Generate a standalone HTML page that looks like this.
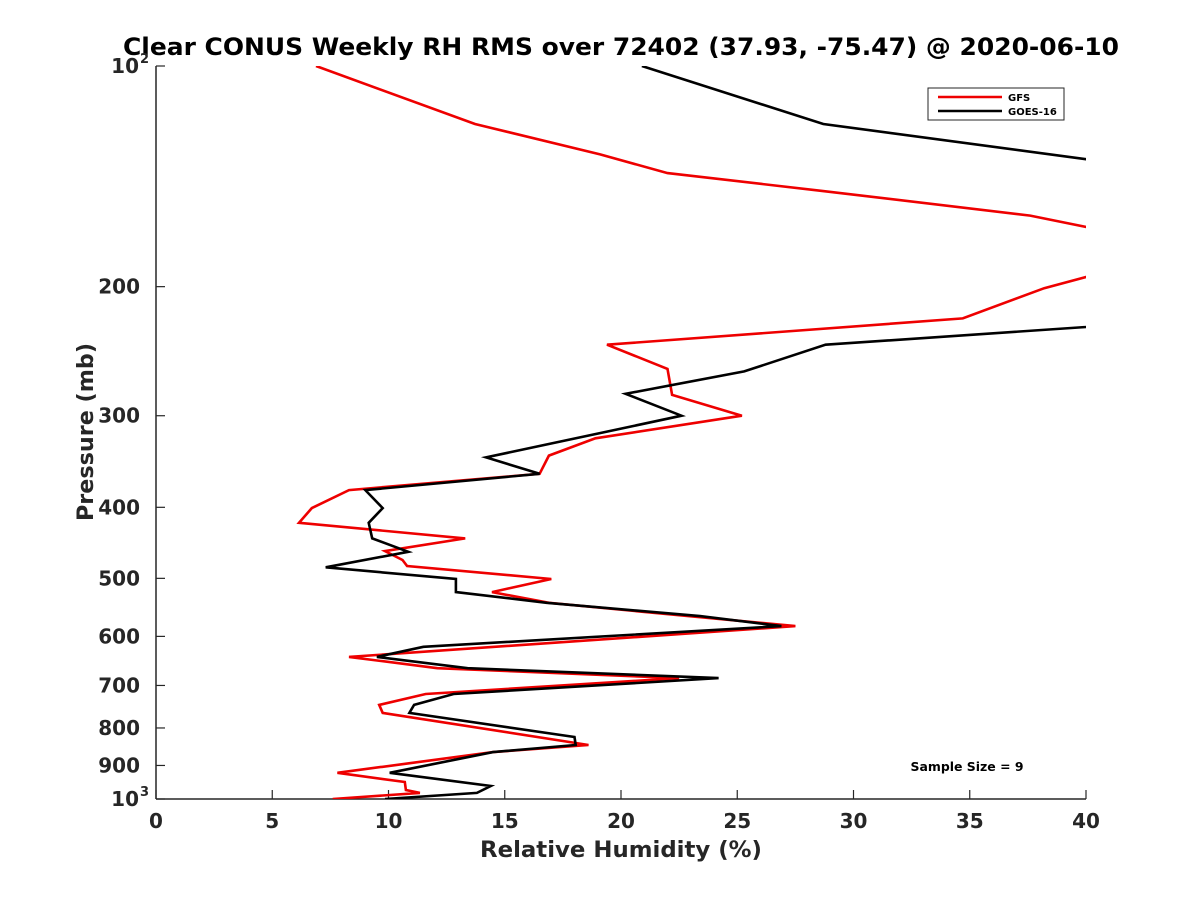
<!DOCTYPE html>
<html><head><meta charset="utf-8"><style>
body{margin:0;background:#fff;}
svg{display:block;font-family:"DejaVu Sans","Liberation Sans",sans-serif;}
</style></head><body>
<svg id="chart" width="1200" height="900" viewBox="0 0 1200 900">
<rect width="1200" height="900" fill="#fff"/>
<defs><clipPath id="plotclip"><rect x="156" y="66" width="930" height="733"/></clipPath></defs>
<text x="621" y="55" text-anchor="middle" font-size="24" font-weight="bold" fill="#000" textLength="996" lengthAdjust="spacingAndGlyphs">Clear CONUS Weekly RH RMS over 72402 (37.93, -75.47) @ 2020-06-10</text>
<g id="axes"></g>
<g id="series" clip-path="url(#plotclip)"></g>
<text x="621" y="857" text-anchor="middle" font-size="22" font-weight="bold" fill="#262626" textLength="282" lengthAdjust="spacingAndGlyphs">Relative Humidity (%)</text>
<text transform="translate(93,432) rotate(-90)" text-anchor="middle" font-size="22" font-weight="bold" fill="#262626" textLength="178" lengthAdjust="spacingAndGlyphs">Pressure (mb)</text>
<g>
<rect x="928" y="88" width="136" height="32" fill="#fff" stroke="#262626" stroke-width="1"/>
<line x1="938" y1="97" x2="1002" y2="97" stroke="#e00" stroke-width="2.5"/>
<text x="1008" y="101" font-size="10" font-weight="bold" fill="#000">GFS</text>
<line x1="938" y1="111" x2="1002" y2="111" stroke="#000" stroke-width="2.5"/>
<text x="1008" y="115" font-size="10" font-weight="bold" fill="#000">GOES-16</text>
</g>
<text x="967" y="771" text-anchor="middle" font-size="12" font-weight="bold" fill="#000" textLength="113" lengthAdjust="spacingAndGlyphs">Sample Size = 9</text>
</svg>
<script>
const xTicks = [0,5,10,15,20,25,30,35,40];
const yTicks = [100,200,300,400,500,600,700,800,900,1000];
const yTickLabels = ['10','200','300','400','500','600','700','800','900','10'];
const gfsP  = [100,120,132,140,148,160,167,178,194,201,221,240,259,281,300,322,340,360,379,401,420,441,459,472,481,501,522,540,563,581,640,663,684,719,744,763,844,863,921,948,972,981,1000];
const gfsRH = [6.88,13.72,19.1,22.0,28.6,37.6,40.5,43,40,38.2,34.7,19.4,22.0,22.2,25.2,18.9,16.9,16.5,8.3,6.7,6.15,13.3,9.85,10.6,10.8,17.0,14.45,16.9,22.9,27.5,8.3,12.1,22.5,11.6,9.6,9.75,18.6,14.5,7.8,10.7,10.75,11.35,7.6];
const goesP  = [100,120,134,160,200,227,240,261,280,300,342,360,379,401,420,441,460,483,501,522,540,563,581,620,640,663,684,719,744,763,823,844,863,921,960,981,1000];
const goesRH = [20.9,28.7,40,48,48,40,28.8,25.3,20.2,22.6,14.2,16.5,9.0,9.75,9.15,9.3,10.85,7.3,12.9,12.9,16.8,23.4,26.9,11.5,9.5,13.4,24.2,12.8,11.1,10.9,18.0,18.05,14.5,10.05,14.4,13.8,9.85];

const X0=156,X1=1086,Y0=66,Y1=799;
function xs(v){return X0+(v-0)/(40-0)*(X1-X0);}
function ys(p){return Y0+(Math.log10(p)-2)*(Y1-Y0);}
const NS='http://www.w3.org/2000/svg';
const axes=document.getElementById('axes');
const series=document.getElementById('series');
function mk(tag,attrs,parent){const e=document.createElementNS(NS,tag);for(const k in attrs)e.setAttribute(k,attrs[k]);parent.appendChild(e);return e;}

let a=mk('line',{x1:X0,y1:Y0,x2:X0,y2:Y1,stroke:'#262626','stroke-width':1.5},axes);


a=mk('line',{x1:X0,y1:Y1,x2:X1,y2:Y1,stroke:'#262626','stroke-width':1.5},axes);



xTicks.forEach(v=>{
  const x=xs(v);
  const t=mk('line',{x1:x,y1:Y1,x2:x,y2:Y1-9,stroke:'#262626','stroke-width':1.2},axes);
  
  
  const l=mk('text',{x:x,y:Y1+29,'text-anchor':'middle','font-size':20,'font-weight':'bold',fill:'#262626'},axes);
  l.textContent=String(v);
  
  
});
yTicks.forEach((p,i)=>{
  const y=ys(p);
  const t=mk('line',{x1:X0,y1:y,x2:X0+9,y2:y,stroke:'#262626','stroke-width':1.2},axes);
  
  
  const l=mk('text',{x:(i==0||i==yTicks.length-1)?X0-17:X0-16,y:y+7,'text-anchor':'end','font-size':20,'font-weight':'bold',fill:'#262626'},axes);
  l.textContent=yTickLabels[i];
  
  
  if(i==0||i==yTicks.length-1){
    const s=mk('text',{x:X0-16,y:y-3,'font-size':13,'font-weight':'bold',fill:'#262626'},axes);
    s.textContent=i==0?'2':'3';
    
    
  }
});
function line(P,V,color,name){
  const pts=P.map((p,i)=>xs(V[i]).toFixed(1)+','+ys(p).toFixed(1)).join(' ');
  const e=mk('polyline',{points:pts,fill:'none',stroke:color,'stroke-width':2.6,'stroke-linejoin':'miter'},series);
  
  
}
line(gfsP,gfsRH,'#e00','gfs-line');
line(goesP,goesRH,'#000','goes16-line');
</script>
</body></html>
